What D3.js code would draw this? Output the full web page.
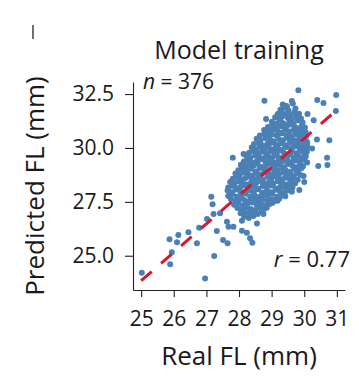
<!DOCTYPE html>
<html><head><meta charset="utf-8">
<script src="https://cdn.jsdelivr.net/npm/d3@7/dist/d3.min.js"></script>
<style>body{margin:0;background:#fff}</style>
</head><body>
<svg id="chart" width="359" height="383"></svg>
<script>
const title = "Model training";
const xLabel = "Real FL (mm)";
const yLabel = "Predicted FL (mm)";
const xTicks = [25, 26, 27, 28, 29, 30, 31];
const yTicks = [25.0, 27.5, 30.0, 32.5];
const nCount = 376;
const rValue = 0.77;
const fitX = [25.0, 31.0];
const fitY = [23.84, 31.76];

// [real FL, predicted FL] — scattered points
const outerPoints = [
[25.02,24.21],[25.87,25.76],[26.14,25.96],[26.10,25.62],[26.45,26.09],[26.71,25.58],[25.94,25.16],[25.89,24.61],
[26.78,26.30],[26.96,23.94],[27.15,27.74],[27.19,27.39],[27.22,26.94],[27.42,26.97],[27.02,26.70],[27.32,26.15],
[27.63,26.58],[27.68,26.35],[27.83,26.35],[28.09,26.62],[28.09,26.16],[28.24,26.07],[28.34,25.81],[28.41,25.60],
[27.51,25.73],[27.65,25.58],[27.24,24.99],[28.55,26.50],[28.75,26.94],[28.96,27.43],[29.18,27.55],[29.37,27.82],
[29.62,27.97],[29.85,28.05],[29.98,28.70],[30.00,28.42],[29.52,28.05],[30.43,29.16],[30.71,29.21],[30.70,29.55],
[30.09,29.32],[30.39,30.39],[30.77,30.36],[30.24,29.98],[30.29,31.28],[30.10,31.58],[30.97,31.71],[30.98,32.46],
[30.40,32.23],[30.59,32.09],[29.82,32.68],[28.78,32.19],[28.83,31.34],[29.21,31.56],[29.42,31.96],[29.62,32.18],
[27.81,29.55],[28.06,29.21],[28.14,29.72]
];
// [real FL, predicted FL] — dense central cloud
const densePoints = [
[29.34,32.02],[29.47,31.94],[29.65,32.06],
[29.27,31.77],[29.40,31.88],[29.52,31.74],[29.73,31.83],
[29.19,31.57],[29.30,31.68],[29.46,31.60],[29.58,31.52],[29.70,31.66],[29.84,31.59],
[29.11,31.42],[29.24,31.33],[29.33,31.47],[29.50,31.39],[29.61,31.30],[29.75,31.44],[29.90,31.37],
[29.01,31.22],[29.15,31.13],[29.28,31.25],[29.37,31.14],[29.55,31.20],[29.66,31.11],[29.79,31.27],[29.95,31.18],
[28.89,30.97],[29.02,31.07],[29.13,30.93],[29.29,31.01],[29.44,30.96],[29.53,31.08],[29.70,30.99],[29.81,30.91],[29.93,31.05],[30.02,30.95],
[28.77,30.83],[28.90,30.74],[29.04,30.86],[29.18,30.79],[29.27,30.70],[29.41,30.84],[29.56,30.76],[29.69,30.87],[29.78,30.72],[29.92,30.80],[30.04,30.74],
[28.64,30.58],[28.78,30.66],[28.92,30.54],[29.01,30.62],[29.16,30.57],[29.31,30.68],[29.45,30.59],[29.57,30.52],[29.72,30.63],[29.85,30.57],[29.97,30.66],[30.06,30.55],
[28.54,30.43],[28.66,30.35],[28.81,30.46],[28.95,30.38],[29.06,30.31],[29.22,30.42],[29.35,30.36],[29.48,30.47],[29.63,30.40],[29.76,30.33],[29.88,30.45],[30.01,30.37],[30.08,30.29],
[28.46,30.18],[28.60,30.25],[28.71,30.13],[28.87,30.20],[29.00,30.27],[29.12,30.15],[29.27,30.22],[29.41,30.11],[29.55,30.24],[29.67,30.17],[29.83,30.21],[29.95,30.12],[30.09,30.22],
[28.39,30.02],[28.52,29.94],[28.64,30.06],[28.79,29.97],[28.91,30.08],[29.05,29.93],[29.19,30.01],[29.30,29.90],[29.46,30.05],[29.60,29.96],[29.71,30.07],[29.86,29.99],[29.98,29.91],[30.10,30.03],
[28.31,29.78],[28.43,29.86],[28.57,29.74],[28.70,29.82],[28.83,29.72],[28.95,29.85],[29.09,29.77],[29.22,29.88],[29.36,29.80],[29.49,29.71],[29.62,29.84],[29.76,29.76],[29.88,29.87],[30.00,29.73],[30.08,29.82],
[28.23,29.62],[28.35,29.54],[28.50,29.66],[28.62,29.58],[28.76,29.51],[28.88,29.64],[29.03,29.57],[29.16,29.67],[29.28,29.53],[29.43,29.60],[29.56,29.68],[29.68,29.55],[29.82,29.63],[29.94,29.52],[30.05,29.61],
[28.15,29.37],[28.28,29.45],[28.40,29.33],[28.55,29.41],[28.67,29.48],[28.81,29.35],[28.94,29.43],[29.08,29.31],[29.21,29.44],[29.34,29.38],[29.48,29.47],[29.60,29.34],[29.74,29.42],[29.87,29.36],[30.00,29.45],
[28.06,29.22],[28.19,29.13],[28.31,29.25],[28.44,29.17],[28.57,29.27],[28.70,29.12],[28.84,29.20],[28.97,29.28],[29.10,29.14],[29.24,29.23],[29.37,29.11],[29.50,29.26],[29.64,29.18],[29.77,29.10],[29.88,29.24],[29.96,29.15],
[27.98,28.97],[28.10,29.06],[28.24,28.94],[28.36,29.03],[28.50,28.91],[28.63,29.07],[28.77,28.99],[28.90,28.92],[29.03,29.05],[29.17,28.95],[29.30,29.08],[29.43,28.98],[29.57,28.90],[29.70,29.04],[29.82,28.96],[29.92,29.07],
[27.89,28.82],[28.02,28.74],[28.15,28.86],[28.28,28.78],[28.42,28.71],[28.55,28.84],[28.68,28.77],[28.81,28.88],[28.95,28.73],[29.08,28.81],[29.22,28.75],[29.35,28.87],[29.48,28.79],[29.62,28.70],[29.76,28.83],[29.87,28.76],
[27.81,28.57],[27.94,28.65],[28.06,28.53],[28.20,28.61],[28.33,28.68],[28.47,28.55],[28.60,28.63],[28.73,28.51],[28.87,28.66],[29.00,28.58],[29.14,28.67],[29.27,28.54],[29.41,28.62],[29.55,28.56],[29.68,28.64],[29.80,28.53],
[27.73,28.42],[27.86,28.34],[27.98,28.46],[28.12,28.37],[28.25,28.31],[28.38,28.44],[28.52,28.36],[28.65,28.47],[28.78,28.33],[28.92,28.41],[29.05,28.35],[29.19,28.45],[29.33,28.38],[29.46,28.30],[29.60,28.43],[29.72,28.36],
[27.67,28.17],[27.80,28.25],[27.93,28.13],[28.06,28.21],[28.19,28.27],[28.33,28.14],[28.46,28.22],[28.59,28.11],[28.73,28.24],[28.86,28.18],[29.00,28.26],[29.13,28.12],[29.27,28.20],[29.41,28.15],[29.54,28.23],[29.64,28.16],
[27.65,28.03],[27.78,27.95],[27.91,28.07],[28.04,27.98],[28.17,27.91],[28.31,28.04],[28.44,27.96],[28.58,28.08],[28.71,27.93],[28.85,28.01],[28.98,27.94],[29.12,28.06],[29.26,27.97],[29.40,27.92],[29.54,28.04],
[27.67,27.77],[27.80,27.86],[27.93,27.74],[28.07,27.82],[28.20,27.88],[28.34,27.75],[28.47,27.83],[28.61,27.72],[28.75,27.85],[28.88,27.78],[29.02,27.87],[29.16,27.74],[29.30,27.81],[29.42,27.76],
[27.75,27.63],[27.89,27.55],[28.02,27.66],[28.16,27.58],[28.30,27.52],[28.44,27.64],[28.58,27.57],[28.72,27.67],[28.86,27.54],[29.00,27.61],[29.13,27.56],[29.24,27.65],
[27.85,27.37],[27.98,27.45],[28.12,27.33],[28.26,27.41],[28.40,27.47],[28.54,27.36],[28.68,27.44],[28.81,27.32],[28.94,27.40],[29.03,27.46],
[27.95,27.22],[28.08,27.14],[28.22,27.25],[28.36,27.17],[28.50,27.12],[28.64,27.24],[28.76,27.16],[28.85,27.23],
[28.05,26.97],[28.18,27.05],[28.31,26.95],[28.44,27.03],[28.57,26.94],[28.68,27.02],
[28.16,26.81],[28.30,26.75],[28.44,26.84]
];

const FONT = "'Open Sans', sans-serif";
const svg = d3.select("#chart");
const x = d3.scaleLinear().domain([24.75, 31.25]).range([133, 345]);
const y = d3.scaleLinear().domain([23.41, 33.06]).range([290, 82]);

// stray mark top-left
svg.append("line").attr("x1", 33).attr("x2", 33).attr("y1", 25).attr("y2", 39)
  .attr("stroke", "#222").attr("stroke-width", 1.3);

const gx = svg.append("g").attr("transform", "translate(0,290)")
  .call(d3.axisBottom(x).tickValues(xTicks).tickFormat(d3.format("d")).tickSize(7).tickPadding(14).tickSizeOuter(0));
const gy = svg.append("g").attr("transform", "translate(133,0)")
  .call(d3.axisLeft(y).tickValues(yTicks).tickFormat(d3.format(".1f")).tickSize(8).tickPadding(11).tickSizeOuter(0));
[gx, gy].forEach(g => {
  g.select(".domain").attr("stroke", "#222").attr("stroke-width", 1.1);
  g.selectAll(".tick line").attr("stroke", "#222").attr("stroke-width", 1.1);
  g.selectAll(".tick text").attr("font-family", FONT).attr("font-size", 21).attr("fill", "#1a1a1a");
});

const allPoints = outerPoints.concat(densePoints);
svg.append("g").selectAll("circle").data(allPoints).join("circle")
  .attr("cx", d => x(d[0])).attr("cy", d => y(d[1])).attr("r", 3)
  .attr("fill", "#4a80b5");

svg.append("line")
  .attr("x1", x(fitX[0])).attr("y1", y(fitY[0]))
  .attr("x2", x(fitX[1])).attr("y2", y(fitY[1]))
  .attr("stroke", "#d01c2e").attr("stroke-width", 3)
  .attr("stroke-dasharray", "14,12.5");

svg.append("text").attr("x", 239).attr("y", 59).attr("text-anchor", "middle")
  .attr("font-family", FONT).attr("font-size", 25).attr("fill", "#1a1a1a").text(title);

const nt = svg.append("text").attr("x", 143).attr("y", 89)
  .attr("font-family", FONT).attr("font-size", 21).attr("fill", "#1a1a1a");
nt.append("tspan").attr("font-style", "italic").text("n");
nt.append("tspan").text(" = " + nCount);

const rt = svg.append("text").attr("x", 350).attr("y", 267).attr("text-anchor", "end")
  .attr("font-family", FONT).attr("font-size", 22).attr("fill", "#1a1a1a");
rt.append("tspan").attr("font-style", "italic").text("r");
rt.append("tspan").text(" = " + rValue.toFixed(2));

svg.append("text").attr("x", 239).attr("y", 365).attr("text-anchor", "middle")
  .attr("font-family", FONT).attr("font-size", 26).attr("fill", "#1a1a1a").text(xLabel);

svg.append("text").attr("transform", "translate(44,186) rotate(-90)").attr("text-anchor", "middle")
  .attr("font-family", FONT).attr("font-size", 26).attr("fill", "#1a1a1a").text(yLabel);
</script>
</body></html>
